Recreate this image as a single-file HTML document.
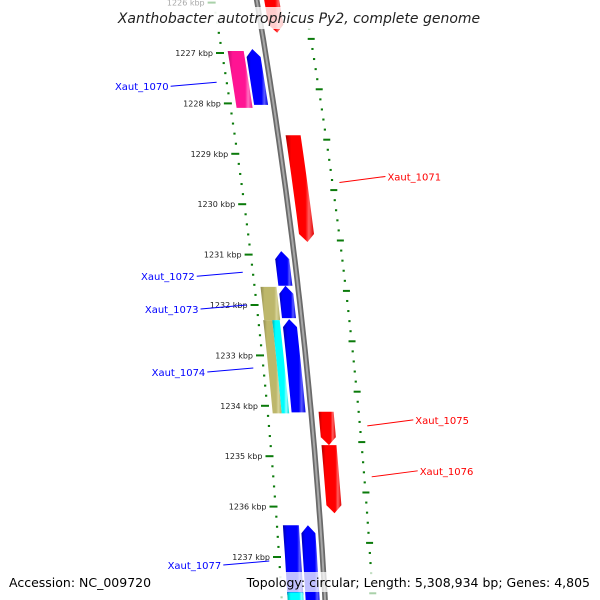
<!DOCTYPE html>
<html><head><meta charset="utf-8">
<style>
html,body{margin:0;padding:0;background:#fff;}
svg{display:block;}
text{font-family:"DejaVu Sans","Liberation Sans",sans-serif;}
</style></head>
<body>
<svg id="map" width="600" height="600" viewBox="0 0 600 600" xmlns="http://www.w3.org/2000/svg">
<defs>
<linearGradient id="g-blue" x1="0" x2="1" y1="0" y2="0"><stop offset="0" stop-color="#0000b0"/><stop offset="0.2" stop-color="#0000ff"/><stop offset="0.7" stop-color="#0000ff"/><stop offset="0.82" stop-color="#5a5aff"/><stop offset="1" stop-color="#0000e0"/></linearGradient>
<linearGradient id="g-red" x1="0" x2="1" y1="0" y2="0"><stop offset="0" stop-color="#b00000"/><stop offset="0.2" stop-color="#ff0000"/><stop offset="0.7" stop-color="#ff0000"/><stop offset="0.82" stop-color="#ff6060"/><stop offset="1" stop-color="#e00000"/></linearGradient>
<linearGradient id="g-pink" x1="0" x2="1" y1="0" y2="0"><stop offset="0" stop-color="#c01070"/><stop offset="0.2" stop-color="#ff1493"/><stop offset="0.7" stop-color="#ff1493"/><stop offset="0.82" stop-color="#ff70c0"/><stop offset="1" stop-color="#f01088"/></linearGradient>
<linearGradient id="g-tan" x1="0" x2="1" y1="0" y2="0"><stop offset="0" stop-color="#8f8a50"/><stop offset="0.2" stop-color="#bdb76b"/><stop offset="0.7" stop-color="#bdb76b"/><stop offset="0.82" stop-color="#d8d49a"/><stop offset="1" stop-color="#b0aa60"/></linearGradient>
<linearGradient id="g-cyan" x1="0" x2="1" y1="0" y2="0"><stop offset="0" stop-color="#00b0b0"/><stop offset="0.2" stop-color="#00ffff"/><stop offset="0.7" stop-color="#00ffff"/><stop offset="0.82" stop-color="#90ffff"/><stop offset="1" stop-color="#00e0e0"/></linearGradient>
</defs>
<g id="ticks"></g>
<g id="backbone"></g>
<g id="genes"></g>
<g id="labels"></g>
<rect x="118" y="7" width="362" height="22" fill="#fff" opacity="0.8"/>
<text x="299" y="23" text-anchor="middle" font-size="14" font-style="italic" fill="#222">Xanthobacter autotrophicus Py2, complete genome</text>
<rect x="4" y="572" width="152" height="20" fill="#fff" opacity="0.75"/>
<text x="9" y="587" font-size="12.5" fill="#000">Accession: NC_009720</text>
<rect x="258" y="572" width="342" height="20" fill="#fff" opacity="0.75"/>
<text x="590" y="587" text-anchor="end" font-size="12.5" fill="#000">Topology: circular; Length: 5,308,934 bp; Genes: 4,805</text>
</svg>
<script>
// ---- data ----
const geneNames  = ["Xaut_1069","Xaut_1070","Xaut_1070b","Xaut_1071","Xaut_1072","Xaut_1073","Xaut_1073b","Xaut_1074","Xaut_1074b","Xaut_1074c","Xaut_1075","Xaut_1076","Xaut_1077","Xaut_1077b","Xaut_1078"];
const geneStarts = [1225.0, 1226.96, 1226.92, 1228.63, 1230.93, 1231.62, 1231.64, 1232.30, 1232.30, 1232.28, 1234.12, 1234.78, 1236.37, 1236.37, 1237.70];
const geneEnds   = [1226.6, 1228.09, 1228.03, 1230.75, 1231.62, 1232.26, 1232.30, 1234.15, 1234.15, 1234.13, 1234.78, 1236.13, 1237.75, 1238.2, 1238.2];
const geneLanes  = ["R","A","B","R","B","B","A","A1","A2","B","R","R","A","B","A"];
const geneKinds  = ["red","pink","blue","red","blue","blue","tan","tan","cyan","blue","red","red","blue","blue","cyan"];
const geneDirs   = ["down","none","up","down","up","up","none","none","none","up","down","down","none","up","none"];
const labelNames = ["Xaut_1070","Xaut_1071","Xaut_1072","Xaut_1073","Xaut_1074","Xaut_1075","Xaut_1076","Xaut_1077"];
const labelKbp   = [1227.58, 1229.45, 1231.35, 1232.0, 1233.25, 1234.28, 1235.29, 1237.08];
const labelSides = ["L","R","L","L","L","R","R","L"];
const labelColors= ["blue","red","blue","blue","blue","red","red","blue"];
const majorTicks = [1226,1227,1228,1229,1230,1231,1232,1233,1234,1235,1236,1237];
const rightTickStart = 1226.72;

// ---- scales ----
function Y(k){ return 53 + (k-1227)*50.4; }
function L(y){ return 216 + 0.1275*(y-53) - 9.52e-5*(y-53)*(y-406); }
const laneOff = {A:[12,28],A1:[11,20],A2:[20,27.5],B:[30,44],R:[57,72]};
const NS="http://www.w3.org/2000/svg";
function mk(tag,attrs,parent){const e=document.createElementNS(NS,tag);for(const k in attrs)e.setAttribute(k,attrs[k]);parent.appendChild(e);return e;}

// ticks
const tg=document.getElementById('ticks');
for(let k=1225.6;k<=1239;k+=0.2){
  const kk=Math.round(k*10)/10, y=Y(kk); if(y<-5||y>605) continue;
  const major=Math.abs(kk-Math.round(kk))<0.01;
  const x=L(y);
  const r=mk('rect',{x:major?x:x+5,y:y-1,width:major?8:2.2,height:2,fill:'#0a7a0a',opacity:(y<32||y>575)?0.35:1},tg);
  
  
}
majorTicks.forEach(k=>{
  const y=Y(k);
  const t=mk('text',{x:L(y)-3,y:y+3,'text-anchor':'end','font-size':'8',fill:'#222',opacity:y<32?0.4:1},tg);
  t.textContent=k+' kbp';
  
  
});
for(let i=-2;i<70;i++){
  const k=rightTickStart+i*0.2, y=Y(k); if(y<-5||y>605) continue;
  const major=i%5===0, x=L(y)+94;
  const r=mk('rect',{x:major?x:x+2,y:y-1,width:major?7:2.2,height:2,fill:'#0a7a0a',opacity:(y<32||y>575)?0.35:1},tg);
  
  
}

// backbone
const bg=document.getElementById('backbone');
let pts=[];for(let y=-10;y<=610;y+=10)pts.push((L(y)+49.5).toFixed(1)+','+y);
const bb1=mk('polyline',{points:pts.join(' '),fill:'none',stroke:'#6a6a6a','stroke-width':5.5},bg);


const bb2=mk('polyline',{points:pts.join(' '),fill:'none',stroke:'#a8a8a8','stroke-width':2},bg);



// genes
const gg=document.getElementById('genes');
geneNames.forEach((n,i)=>{
  const o=laneOff[geneLanes[i]], y0=Y(geneStarts[i]), y1=Y(geneEnds[i]), a=8;
  const P=(off,y)=>(L(y)+off).toFixed(1)+','+y.toFixed(1);
  let p=[];
  const mid=(o[0]+o[1])/2;
  if(geneDirs[i]==='up'){
    p=[P(o[0],y0+a),P(mid,y0),P(o[1],y0+a)];
    for(let y=y0+a;y<=y1;y+=20)p.push(P(o[1],y)); p.push(P(o[1],y1),P(o[0],y1));
    for(let y=y1;y>=y0+a;y-=20)p.push(P(o[0],y));
  } else if(geneDirs[i]==='down'){
    p=[P(o[0],y0),P(o[1],y0)];
    for(let y=y0;y<=y1-a;y+=20)p.push(P(o[1],y)); p.push(P(o[1],y1-a),P(mid,y1),P(o[0],y1-a));
    for(let y=y1-a;y>=y0;y-=20)p.push(P(o[0],y));
  } else {
    p=[P(o[0],y0),P(o[1],y0)];
    for(let y=y0;y<=y1;y+=20)p.push(P(o[1],y)); p.push(P(o[1],y1),P(o[0],y1));
    for(let y=y1;y>=y0;y-=20)p.push(P(o[0],y));
  }
  const e=mk('polygon',{points:p.join(' '),fill:'url(#g-'+geneKinds[i]+')'},gg);
  
  
});

// labels
const lg=document.getElementById('labels');
labelNames.forEach((n,i)=>{
  const y=Y(labelKbp[i]), col=labelColors[i]==='blue'?'#0000ff':'#ff0000';
  let x1,x2,tx,anchor,ly1,ly2,ty;
  if(labelSides[i]==='L'){ x2=L(y)-4; x1=x2-46; tx=x1-2; anchor='end'; ly1=y+4; ly2=y; ty=y+8; }
  else { x1=L(y)+105; x2=x1+46; tx=x2+2; anchor='start'; ly1=y+6; ly2=y; ty=y+4; }
  const ln=mk('line',{x1:x1,y1:ly1,x2:x2,y2:ly2,stroke:col,'stroke-width':1},lg);
  
  
  const t=mk('text',{x:tx,y:ty,'text-anchor':anchor,'font-size':'10',fill:col},lg);
  t.textContent=n;
  
  
});
</script>
</body></html>
